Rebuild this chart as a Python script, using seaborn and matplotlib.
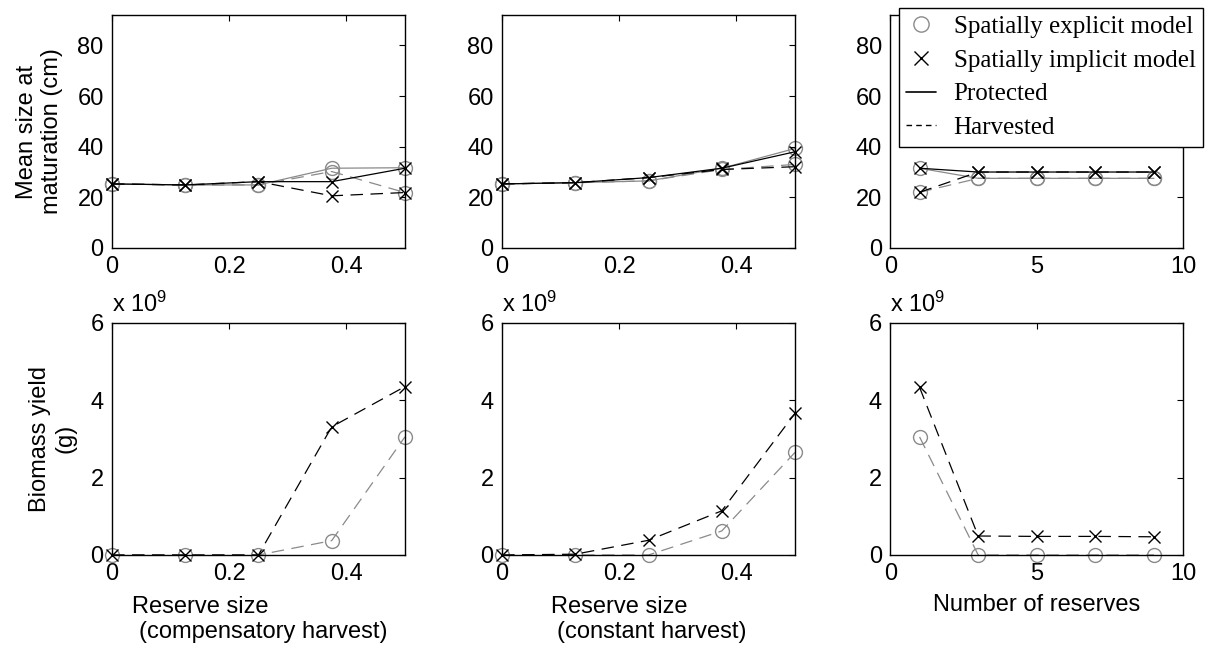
import matplotlib
matplotlib.use("Agg")
import matplotlib.pyplot as plt
import seaborn as sns
from matplotlib.lines import Line2D
from matplotlib.ticker import FormatStrFormatter

# x values
reserve_size = [0, 0.125, 0.25, 0.375, 0.5]
n_reserves = [1, 3, 5, 7, 9]

# mean size at maturation (cm) - compensatory harvest
comp_expl_prot = [25.3, 24.9, 24.9, 31.5, 31.7]
comp_expl_harv = [25.3, 24.9, 24.9, 30.2, 21.9]
comp_impl_prot = [25.3, 24.9, 26.2, 26.2, 31.5]
comp_impl_harv = [25.3, 24.9, 26.2, 20.6, 21.9]

# mean size at maturation (cm) - constant harvest
const_expl_prot = [25.3, 25.8, 26.5, 31.5, 39.3]
const_expl_harv = [25.3, 25.8, 26.5, 31.0, 33.0]
const_impl_prot = [25.3, 25.8, 27.8, 31.5, 38.0]
const_impl_harv = [25.3, 25.8, 27.8, 31.0, 32.1]

# mean size at maturation (cm) - number of reserves
num_expl_prot = [31.5, 27.5, 27.5, 27.5, 27.5]
num_expl_harv = [22.0, 27.5, 27.5, 27.5, 27.5]
num_impl_prot = [31.5, 30.0, 30.0, 30.0, 30.0]
num_impl_harv = [22.0, 30.0, 30.0, 30.0, 30.0]

# biomass yield (x 10^9 g)
comp_expl_yield = [0, 0, 0, 0.37, 3.05]
comp_impl_yield = [0, 0, 0, 3.31, 4.35]
const_expl_yield = [0, 0, 0, 0.62, 2.65]
const_impl_yield = [0, 0.02, 0.38, 1.14, 3.66]
num_expl_yield = [3.05, 0, 0, 0, 0]
num_impl_yield = [4.33, 0.49, 0.48, 0.48, 0.47]

sns.set_style("white")
plt.rcParams["font.family"] = ["Liberation Sans", "DejaVu Sans"]
plt.rcParams["font.size"] = 17
plt.rcParams["text.color"] = "black"
plt.rcParams["axes.labelcolor"] = "black"
plt.rcParams["xtick.color"] = "black"
plt.rcParams["ytick.color"] = "black"
plt.rcParams["mathtext.fontset"] = "custom"
plt.rcParams["mathtext.rm"] = "Liberation Sans"
plt.rcParams["mathtext.default"] = "regular"

GRAY = "#8a8a8a"
DASH = (0, (10, 6))


def draw(ax, x, y, model, ls):
    if model == "explicit":
        kw = dict(color=GRAY, marker="o", markersize=10, markerfacecolor="none",
                  markeredgecolor=GRAY, markeredgewidth=1)
    else:
        kw = dict(color="black", marker="x", markersize=8,
                  markeredgecolor="black", markeredgewidth=1)
    sns.lineplot(x=x, y=y, ax=ax, linestyle=ls, linewidth=0.9, clip_on=False, **kw)


def style(ax, xlim, xticks, ylim, yticks):
    ax.set_xlim(*xlim)
    ax.set_ylim(*ylim)
    ax.set_xticks(xticks)
    ax.set_yticks(yticks)
    ax.xaxis.set_major_formatter(FormatStrFormatter("%g"))
    ax.tick_params(direction="in", top=True, right=True, length=4, width=0.8, pad=6)
    for s in ax.spines.values():
        s.set_color("black")
        s.set_linewidth(1)


fig = plt.figure(figsize=(12.08, 6.56), dpi=100)
lefts = [0.0927, 0.4156, 0.737]
w = 0.2425
top_axes = [fig.add_axes([l, 0.622, w, 0.355]) for l in lefts]
bot_axes = [fig.add_axes([l, 0.154, w, 0.354]) for l in lefts]

top_sets = [
    (reserve_size, comp_expl_prot, comp_expl_harv, comp_impl_prot, comp_impl_harv),
    (reserve_size, const_expl_prot, const_expl_harv, const_impl_prot, const_impl_harv),
    (n_reserves, num_expl_prot, num_expl_harv, num_impl_prot, num_impl_harv),
]
for ax, (x, ep, eh, ip, ih) in zip(top_axes, top_sets):
    draw(ax, x, eh, "explicit", DASH)
    draw(ax, x, ep, "explicit", "-")
    draw(ax, x, ih, "implicit", DASH)
    draw(ax, x, ip, "implicit", "-")

bot_sets = [
    (reserve_size, comp_expl_yield, comp_impl_yield),
    (reserve_size, const_expl_yield, const_impl_yield),
    (n_reserves, num_expl_yield, num_impl_yield),
]
for ax, (x, e, i) in zip(bot_axes, bot_sets):
    draw(ax, x, e, "explicit", DASH)
    draw(ax, x, i, "implicit", DASH)
    ax.text(0, 1.025, r"x 10$^{9}$", transform=ax.transAxes, ha="left", va="bottom")

for k, ax in enumerate(top_axes + bot_axes):
    if k % 3 == 2:
        xl, xt = (0, 10), [0, 5, 10]
    else:
        xl, xt = (0, 0.5), [0, 0.2, 0.4]
    if k < 3:
        style(ax, xl, xt, (0, 92), [0, 20, 40, 60, 80])
    else:
        style(ax, xl, xt, (0, 6), [0, 2, 4, 6])
    ax.set_xlabel("")
    ax.set_ylabel("")

top_axes[0].set_ylabel("Mean size at\nmaturation (cm)", labelpad=10)
bot_axes[0].set_ylabel("Biomass yield\n(g)", labelpad=10)

bot_axes[0].set_xlabel("Reserve size", va="center")
bot_axes[0].xaxis.set_label_coords(0.30, -0.224)
bot_axes[0].text(0.515, -0.332, "(compensatory harvest)", transform=bot_axes[0].transAxes,
                 ha="center", va="center")
bot_axes[1].set_xlabel("Reserve size", va="center")
bot_axes[1].xaxis.set_label_coords(0.40, -0.224)
bot_axes[1].text(0.51, -0.332, "(constant harvest)", transform=bot_axes[1].transAxes,
                 ha="center", va="center")
bot_axes[2].set_xlabel("Number of reserves", va="center")
bot_axes[2].xaxis.set_label_coords(0.50, -0.216)

handles = [
    Line2D([], [], linestyle="none", marker="o", markersize=11, markerfacecolor="none",
           markeredgecolor=GRAY, markeredgewidth=1),
    Line2D([], [], linestyle="none", marker="x", markersize=10, markeredgecolor="black",
           markeredgewidth=1),
    Line2D([], [], color="black", linewidth=1.2),
    Line2D([], [], color="black", linewidth=1, linestyle=(0, (4, 3))),
]
labels = ["Spatially explicit model", "Spatially implicit model", "Protected", "Harvested"]
fig.legend(handles, labels, loc="upper right", bbox_to_anchor=(0.996, 0.988),
           prop={"family": "Liberation Serif", "size": 18}, frameon=True, fancybox=False,
           edgecolor="black", framealpha=1, borderpad=0.3, labelspacing=0.45,
           handlelength=1.2, handletextpad=0.7, borderaxespad=0)

fig.savefig("out.png", dpi=100)
